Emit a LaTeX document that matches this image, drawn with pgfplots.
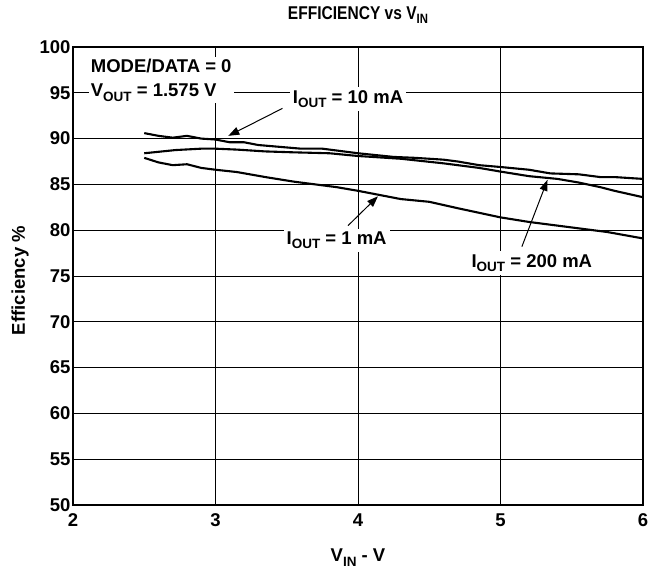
\documentclass[border=0pt]{standalone}
\usepackage{pgfplots}
\pgfplotsset{compat=1.18}
\usepackage{fontspec}
\setmainfont{Liberation Sans}
\newfontfamily\narrowfont{Liberation Sans}[FakeStretch=0.84]
\usetikzlibrary{arrows.meta}
\newcommand{\sub}[1]{\raisebox{-0.45ex}{\fontsize{13.5}{13.5}\selectfont #1}}
\newcommand{\bigf}{\fontsize{18.5}{24}\selectfont\bfseries}
\begin{document}
\begin{tikzpicture}
\begin{axis}[
  scale only axis, width=570pt, height=458pt,
  xmin=2, xmax=6, ymin=50, ymax=100,
  xtick={2,3,4,5,6}, ytick={50,55,...,100},
  grid=major, major grid style={black, line width=0.8pt},
  axis line style={line width=1.8pt},
  major tick length=0pt,
  tick label style={font=\bigf},
  /pgf/number format/assume math mode=true,
  xticklabel style={yshift=-5pt},
  yticklabel style={xshift=1pt},
  clip=false,
]
\coordinate (bl) at (rel axis cs:0,0);
\addplot[black, line width=2.1pt] coordinates {
(2.5,90.6)(2.6,90.3)(2.7,90.1)(2.8,90.3)(2.9,90.0)(3.0,89.9)(3.1,89.6)(3.2,89.6)(3.3,89.3)(3.45,89.1)(3.6,88.9)(3.75,88.9)(3.9,88.6)(4.0,88.4)(4.25,88.0)(4.4,87.9)(4.6,87.7)(4.7,87.5)(4.85,87.1)(5.0,86.9)(5.2,86.6)(5.35,86.2)(5.55,86.1)(5.7,85.8)(5.8,85.8)(6.0,85.6)};
\addplot[black, line width=2.1pt] coordinates {
(2.5,88.4)(2.72,88.75)(2.9,88.9)(3.0,88.9)(3.15,88.8)(3.35,88.6)(3.55,88.5)(3.8,88.4)(4.0,88.1)(4.3,87.8)(4.6,87.3)(4.85,86.8)(5.0,86.4)(5.2,85.9)(5.4,85.6)(5.55,85.2)(5.7,84.7)(5.8,84.3)(6.0,83.6)};
\addplot[black, line width=2.1pt] coordinates {
(2.5,87.9)(2.6,87.4)(2.7,87.1)(2.8,87.2)(2.9,86.8)(3.0,86.6)(3.15,86.35)(3.35,85.8)(3.55,85.3)(3.7,85.0)(3.85,84.7)(4.0,84.3)(4.3,83.4)(4.5,83.1)(4.7,82.4)(5.0,81.4)(5.2,80.9)(5.5,80.3)(5.75,79.8)(6.0,79.1)};

\node[anchor=north west, fill=white, inner sep=2pt, align=left, font=\bigf] at (axis cs:2.11,98.9) {MODE/DATA = 0\\V\sub{OUT} = 1.575 V};
\node[fill=white, inner sep=3pt, font=\bigf] at (axis cs:3.93,94.3) {I\sub{OUT} = 10 mA};
\node[fill=white, inner sep=3pt, font=\bigf] at (axis cs:3.85,78.9) {I\sub{OUT} = 1 mA};
\node[fill=white, inner sep=3pt, font=\bigf] at (axis cs:5.22,76.4) {I\sub{OUT} = 200 mA};

\draw[line width=1pt, -{Triangle[length=11pt,width=8pt]}] (axis cs:3.47,93.3) -- (axis cs:3.09,90.3);
\draw[line width=1pt, -{Triangle[length=11pt,width=8pt]}] (axis cs:3.93,80.5) -- (axis cs:4.14,83.7);
\draw[line width=1pt, -{Triangle[length=11pt,width=8pt]}] (axis cs:5.15,78.2) -- (axis cs:5.33,85.5);

\node[anchor=base, font={\fontsize{18.5}{20}\narrowfont\bfseries}] at ([yshift=28pt]rel axis cs:0.5,1) {EFFICIENCY vs V\sub{IN}};
\node[anchor=base, font=\bigf] at ([yshift=-57pt]rel axis cs:0.5,0) {V\sub{IN} - V};
\node[anchor=base, rotate=90, font=\bigf] at ([xshift=-48pt]rel axis cs:0,0.49) {Efficiency \%};
\end{axis}
\pgfresetboundingbox
\path ([shift={(-73pt,-68pt)}]bl) rectangle ([shift={(576pt,505pt)}]bl);
\end{tikzpicture}
\end{document}
